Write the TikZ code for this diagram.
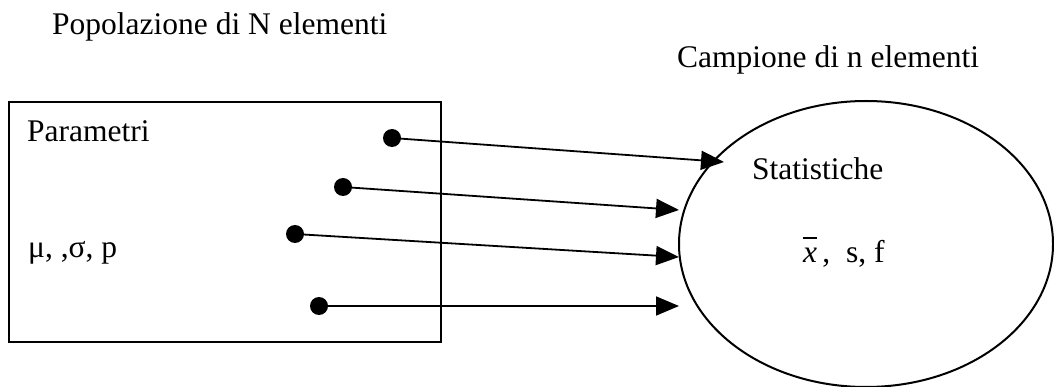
\documentclass[tikz,border=0pt]{standalone}
\usepackage{fontspec}
\setmainfont{Liberation Serif}
\usetikzlibrary{arrows.meta,shapes.geometric}
\tikzset{
  lbl/.style={inner sep=0pt, anchor=base west, font=\fontsize{31.5}{36}\selectfont},
  box/.style={draw, line width=2pt},
  dot/.style={circle, fill=black, inner sep=0pt, minimum size=18pt},
  link/.style={line width=1.8pt, -{Triangle[length=23pt,width=19pt]}},
}
\begin{document}
\begin{tikzpicture}[x=1pt,y=-1pt]
\useasboundingbox (0,0) rectangle (1054,387);
\node[lbl] (pop) at (52,35) {Popolazione di N elementi};
\node[lbl] (camp) at (677,68) {Campione di n elementi};
\node[box, minimum width=432pt, minimum height=240pt, anchor=north west, inner sep=0pt] (rect) at (8,101) {};
\node[lbl] (par) at (27,142) {Parametri};
\node[lbl] (mu) at (28,258) {μ, ,σ, p};
\node[draw, line width=2pt, ellipse, minimum width=374pt, minimum height=286pt, inner sep=0pt] (ell) at (866,244) {};
\node[lbl] (stat) at (752,180) {Statistiche};
\node[lbl] (xs) at (803,262) {{\itshape x}\llap{\raisebox{23pt}{\rule{14pt}{1.6pt}}}\,,\ \ s, f};
\node[dot] (d1) at (392,138) {};
\node[dot] (d2) at (343,187) {};
\node[dot] (d3) at (295,234) {};
\node[dot] (d4) at (319,306) {};
\coordinate (t1) at (724,162);
\coordinate (t2) at (679,210);
\coordinate (t3) at (679,257);
\coordinate (t4) at (679,306);
\draw[link] (d1.center) -- (t1);
\draw[link] (d2.center) -- (t2);
\draw[link] (d3.center) -- (t3);
\draw[link] (d4.center) -- (t4);
\end{tikzpicture}
\end{document}
